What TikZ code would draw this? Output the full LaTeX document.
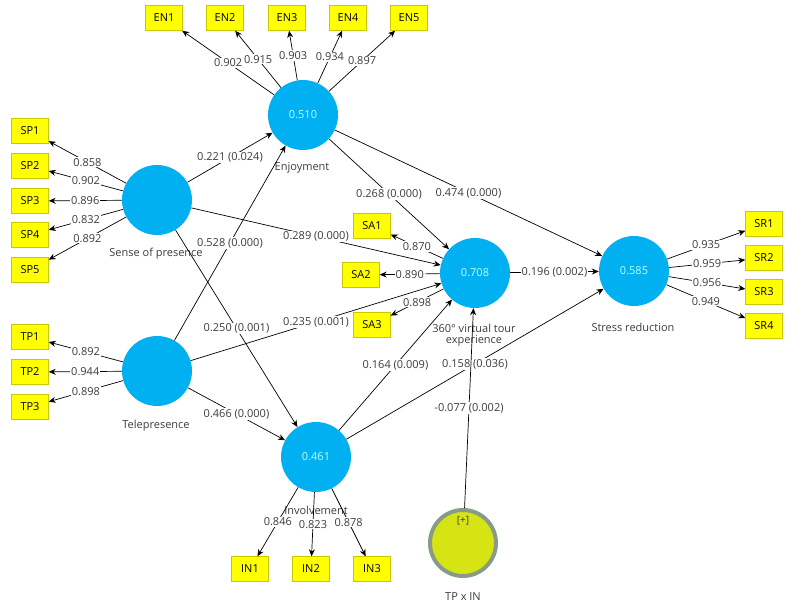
\documentclass[tikz,border=0pt]{standalone}
\usepackage{fontspec}
\setmainfont{Open Sans}
\usepackage{tikz}
\usetikzlibrary{arrows.meta}
\usetikzlibrary{positioning}
\definecolor{plsblue}{RGB}{0,176,240}
\definecolor{plsvalue}{RGB}{190,255,255}
\definecolor{boxfill}{RGB}{255,255,0}
\definecolor{boxline}{RGB}{200,200,0}
\definecolor{modfill}{RGB}{214,228,20}
\definecolor{modring}{RGB}{135,155,135}
\definecolor{captext}{RGB}{60,60,60}
\tikzset{
	% >=latex, %%  plain triangles instead
    latent/.style={circle, fill=plsblue, minimum size=70pt, inner sep=0pt,
        text=plsvalue, font=\fontsize{11}{13}\selectfont},
    moderator/.style={circle, fill=modfill, draw=modring, line width=4pt,
        minimum size=66pt, inner sep=0pt},
    indicator/.style={draw=boxline, fill=boxfill, minimum width=37pt,
        minimum height=25pt, inner sep=0pt, font=\fontsize{11}{13}\selectfont},
    inner/.style={draw=black, line width=0.7pt, ->},
    outer/.style={draw=black, line width=0.7pt, ->},
    coef/.style={fill=white, inner sep=1pt, text=captext, font=\fontsize{11}{13}\selectfont},
    caption/.style={text=captext, font=\fontsize{11}{13}\selectfont, align=center},
}

\begin{document}
\begin{tikzpicture}[x=1pt, y=-1pt, >={Stealth[length=7pt,width=6pt]}]
	\useasboundingbox (0,0) rectangle (790,608);
	% constructs
	\node[latent] (en) at (303,115) {0.510};
	\node[latent] (sp) at (157,200) {};
	\node[latent] (tp) at (157,371) {};
	\node[latent] (vt) at (475,273) {0.708};
	\node[latent] (sr) at (634,271) {0.585};
	\node[latent] (in) at (316,457) {0.461};
	\node[moderator] (mod) at (463,543) {};
	\node[caption] (en-cap) at (302,168) {Enjoyment};
	\node[caption] (sp-cap) at (156,254) {Sense of presence};
	\node[caption] (tp-cap) at (156,426) {Telepresence};
	\node[caption] (vt-cap) at (474,335) {360° virtual tour\\[-2pt]experience};
	\node[caption] (sr-cap) at (633,327) {Stress reduction};
	\node[caption] (in-cap) at (316,510) {Involvement};
	\node[caption] (mod-cap) at (463,597) {TP x IN};
	\node[caption, font=\fontsize{10}{12}\selectfont] (mod-sign) at (463,521) {[+]};
	% indicators
	\node[indicator] (en1) at (164,18) {EN1};
	\node[indicator] (en2) at (225,18) {EN2};
	\node[indicator] (en3) at (287,18) {EN3};
	\node[indicator] (en4) at (348,18) {EN4};
	\node[indicator] (en5) at (409,18) {EN5};
	\node[indicator] (sp1) at (30,131) {SP1};
	\node[indicator] (sp2) at (30,166) {SP2};
	\node[indicator] (sp3) at (30,201) {SP3};
	\node[indicator] (sp4) at (30,235) {SP4};
	\node[indicator] (sp5) at (30,270) {SP5};
	\node[indicator] (tp1) at (30,337) {TP1};
	\node[indicator] (tp2) at (30,372) {TP2};
	\node[indicator] (tp3) at (30,407) {TP3};
	\node[indicator] (sa1) at (372,226) {SA1};
	\node[indicator] (sa2) at (361,275) {SA2};
	\node[indicator] (sa3) at (372,325) {SA3};
	\node[indicator] (sr1) at (764,224) {SR1};
	\node[indicator] (sr2) at (764,258) {SR2};
	\node[indicator] (sr3) at (764,292) {SR3};
	\node[indicator] (sr4) at (764,326) {SR4};
	\node[indicator] (in1) at (250,569) {IN1};
	\node[indicator] (in2) at (311,569) {IN2};
	\node[indicator] (in3) at (372,569) {IN3};
	% loadings
	\draw[outer] (en) -- node[coef] {0.902} (en1);
	\draw[outer] (en) -- node[coef] {0.915} (en2);
	\draw[outer] (en) -- node[coef] {0.903} (en3);
	\draw[outer] (en) -- node[coef] {0.934} (en4);
	\draw[outer] (en) -- node[coef] {0.897} (en5);
	\draw[outer] (sp) -- node[coef] {0.858} (sp1);
	\draw[outer] (sp) -- node[coef] {0.902} (sp2);
	\draw[outer] (sp) -- node[coef] {0.896} (sp3);
	\draw[outer] (sp) -- node[coef] {0.832} (sp4);
	\draw[outer] (sp) -- node[coef] {0.892} (sp5);
	\draw[outer] (tp) -- node[coef] {0.892} (tp1);
	\draw[outer] (tp) -- node[coef] {0.944} (tp2);
	\draw[outer] (tp) -- node[coef] {0.898} (tp3);
	\draw[outer] (vt) -- node[coef] {0.870} (sa1);
	\draw[outer] (vt) -- node[coef] {0.890} (sa2);
	\draw[outer] (vt) -- node[coef] {0.898} (sa3);
	\draw[outer] (sr) -- node[coef] {0.935} (sr1);
	\draw[outer] (sr) -- node[coef] {0.959} (sr2);
	\draw[outer] (sr) -- node[coef] {0.956} (sr3);
	\draw[outer] (sr) -- node[coef] {0.949} (sr4);
	\draw[outer] (in) -- node[coef] {0.846} (in1);
	\draw[outer] (in) -- node[coef] {0.823} (in2);
	\draw[outer] (in) -- node[coef] {0.878} (in3);
	% path coefficients
	\draw[inner] (sp) -- node[coef] {0.221 (0.024)} (en);
	\draw[inner] (tp) -- node[coef] {0.528 (0.000)} (en);
	\draw[inner] (sp) -- node[coef] {0.289 (0.000)} (vt);
	\draw[inner] (sp) -- node[coef] {0.250 (0.001)} (in);
	\draw[inner] (tp) -- node[coef] {0.235 (0.001)} (vt);
	\draw[inner] (tp) -- node[coef] {0.466 (0.000)} (in);
	\draw[inner] (en) -- node[coef] {0.268 (0.000)} (vt);
	\draw[inner] (en) -- node[coef] {0.474 (0.000)} (sr);
	\draw[inner] (vt) -- node[coef] {0.196 (0.002)} (sr);
	\draw[inner] (in) -- node[coef] {0.164 (0.009)} (vt);
	\draw[inner] (in) -- node[coef] {0.158 (0.036)} (sr);
	\draw[inner] (mod) -- node[coef] {-0.077 (0.002)} (vt);
\end{tikzpicture}
\end{document}
